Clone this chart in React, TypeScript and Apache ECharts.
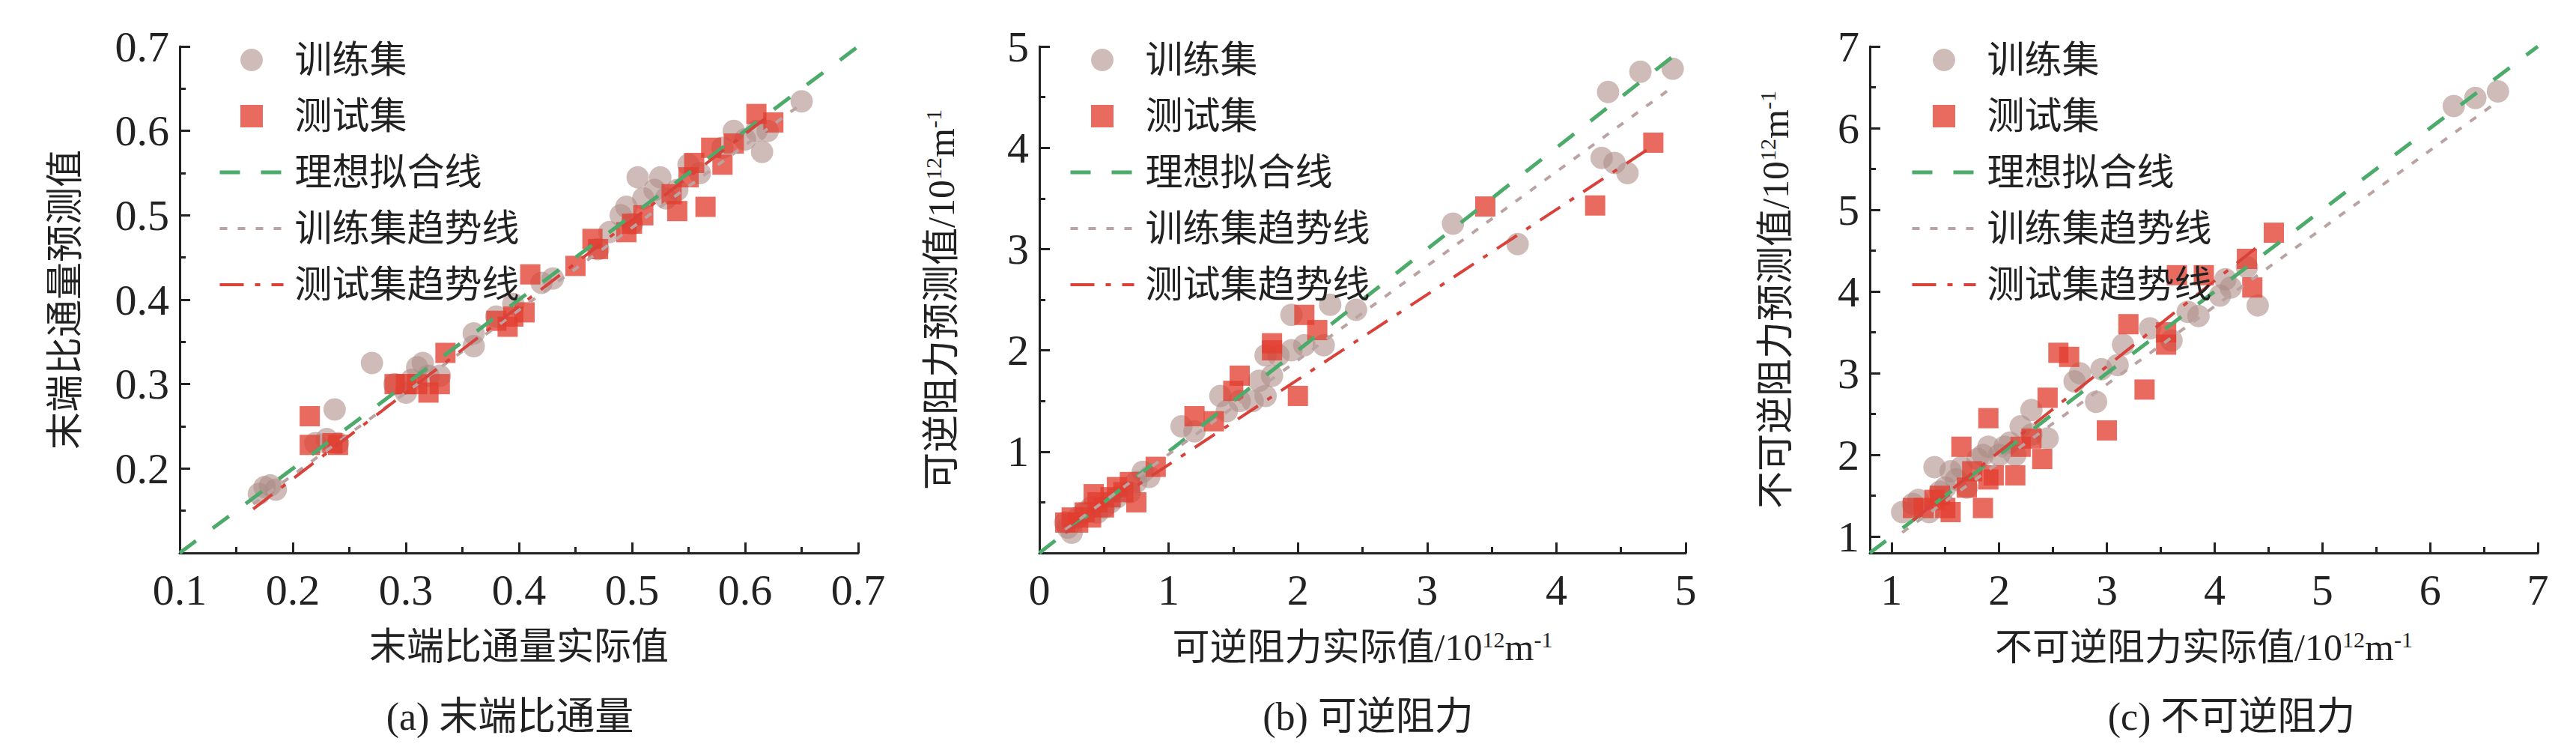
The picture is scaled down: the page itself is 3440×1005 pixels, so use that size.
import React, { useEffect, useRef } from "react";
import * as echarts from "echarts";

const trainA = [[0.17,0.17],[0.175,0.178],[0.18,0.18],[0.185,0.175],[0.22,0.23],[0.23,0.235],[0.237,0.27],[0.24,0.23],[0.27,0.325],[0.29,0.3],[0.3,0.29],[0.305,0.305],[0.31,0.32],[0.315,0.325],[0.32,0.31],[0.33,0.31],[0.36,0.36],[0.36,0.345],[0.38,0.38],[0.395,0.395],[0.42,0.42],[0.43,0.425],[0.47,0.46],[0.48,0.48],[0.49,0.5],[0.495,0.51],[0.5,0.49],[0.505,0.545],[0.51,0.52],[0.52,0.53],[0.525,0.545],[0.53,0.52],[0.54,0.53],[0.55,0.56],[0.56,0.55],[0.58,0.58],[0.59,0.6],[0.6,0.59],[0.61,0.6],[0.615,0.575],[0.62,0.6],[0.65,0.635]];
const testA = [[0.215,0.262],[0.215,0.228],[0.235,0.23],[0.24,0.228],[0.29,0.3],[0.3,0.3],[0.31,0.3],[0.32,0.29],[0.33,0.3],[0.335,0.337],[0.38,0.375],[0.39,0.368],[0.395,0.38],[0.405,0.385],[0.41,0.43],[0.45,0.44],[0.465,0.472],[0.47,0.46],[0.495,0.48],[0.5,0.49],[0.51,0.5],[0.535,0.525],[0.54,0.505],[0.55,0.545],[0.555,0.562],[0.565,0.51],[0.57,0.58],[0.58,0.56],[0.59,0.585],[0.61,0.62],[0.625,0.61]];
const idealA = [[0.1,0.1],[0.7,0.7]];
const trendTrainA = [[0.165,0.158],[0.65,0.632]];
const trendTestA = [[0.165,0.152],[0.625,0.622]];

const trainB = [[0.2,0.3],[0.22,0.25],[0.25,0.2],[0.3,0.35],[0.35,0.4],[0.4,0.45],[0.45,0.4],[0.5,0.45],[0.55,0.5],[0.6,0.55],[0.7,0.6],[0.75,0.7],[0.8,0.8],[0.85,0.75],[1.1,1.25],[1.2,1.2],[1.4,1.55],[1.45,1.4],[1.55,1.5],[1.65,1.5],[1.7,1.7],[1.75,1.95],[1.75,1.55],[1.8,1.75],[1.85,1.95],[1.95,2.35],[1.95,2.0],[2.05,2.05],[2.2,2.05],[2.25,2.45],[2.45,2.4],[3.2,3.25],[3.7,3.05],[4.35,3.9],[4.4,4.55],[4.45,3.85],[4.55,3.75],[4.65,4.75],[4.9,4.78]];
const testB = [[0.2,0.3],[0.25,0.35],[0.3,0.3],[0.35,0.4],[0.4,0.35],[0.42,0.58],[0.45,0.5],[0.5,0.45],[0.55,0.55],[0.6,0.65],[0.65,0.6],[0.7,0.7],[0.75,0.5],[0.9,0.85],[1.2,1.35],[1.35,1.3],[1.5,1.6],[1.55,1.75],[1.8,2.0],[1.8,2.07],[2.0,1.55],[2.05,2.35],[2.15,2.2],[3.45,3.42],[4.3,3.43],[4.75,4.05]];
const idealB = [[0,0],[5,5]];
const trendTrainB = [[0.2,0.23],[4.9,4.6]];
const trendTestB = [[0.2,0.2],[4.75,4.02]];

const trainC = [[1.1,1.3],[1.2,1.4],[1.25,1.45],[1.35,1.3],[1.4,1.85],[1.45,1.55],[1.5,1.6],[1.55,1.8],[1.6,1.7],[1.65,1.85],[1.7,1.6],[1.8,1.95],[1.85,2.0],[1.9,2.1],[2.0,2.0],[2.05,2.1],[2.1,2.15],[2.15,2.0],[2.2,2.35],[2.3,2.55],[2.3,2.25],[2.45,2.2],[2.7,2.9],[2.75,3.0],[2.9,2.65],[2.95,3.05],[3.1,3.1],[3.15,3.35],[3.4,3.55],[3.6,3.4],[3.75,3.75],[3.85,3.7],[4.05,3.95],[4.1,4.15],[4.15,4.05],[4.3,4.3],[4.4,3.83],[6.22,6.27],[6.42,6.37],[6.63,6.45]];
const testC = [[1.2,1.35],[1.3,1.35],[1.4,1.45],[1.45,1.5],[1.5,1.35],[1.55,1.3],[1.65,2.1],[1.7,1.6],[1.75,1.8],[1.85,1.35],[1.9,2.45],[1.9,1.7],[1.95,1.75],[2.15,1.75],[2.2,2.1],[2.3,2.2],[2.4,1.95],[2.45,2.7],[2.55,3.25],[2.65,3.2],[3.0,2.3],[3.2,3.6],[3.35,2.8],[3.55,3.5],[3.55,3.35],[3.65,4.2],[3.9,4.2],[4.3,4.4],[4.35,4.05],[4.55,4.72]];
const idealC = [[0.8,0.8],[7,7]];
const trendTrainC = [[1.1,1.05],[6.6,6.3]];
const trendTestC = [[1.2,1.2],[4.4,4.55]];

const ticksC = [1, 2, 3, 4, 5, 6, 7];
const minorC = [1.5, 2.5, 3.5, 4.5, 5.5, 6.5];

const titles = ["(a) 末端比通量", "(b) 可逆阻力", "(c) 不可逆阻力"];
const xNames = ["末端比通量实际值", "可逆阻力实际值/10{s|12}m{s|-1}", "不可逆阻力实际值/10{s|12}m{s|-1}"];
const yNames = ["末端比通量预测值", "可逆阻力预测值/10{s|12}m{s|-1}", "不可逆阻力预测值/10{s|12}m{s|-1}"];
const names = ["训练集", "测试集", "理想拟合线", "训练集趋势线", "测试集趋势线"];

const FONT = "'Liberation Serif', 'Noto Sans CJK SC', serif";
const C_TRAIN = "rgba(172,138,134,0.72)";
const C_TEST = "rgba(226,60,46,0.95)";
const LS_IDEAL = { color: "#4caa6a", width: 5, type: [27, 28] };
const LS_TRAIN = { color: "#bba3a3", width: 4, type: [10, 14] };
const LS_TEST = { color: "#d9423a", width: 4, type: [32, 15, 7, 15] };

export default function App() {
  const ref = useRef<HTMLDivElement>(null);
  useEffect(() => {
    const chart = echarts.init(ref.current!, null, { renderer: "svg" });
    const grids = [
      { left: 232, top: 54, width: 906, height: 676 },
      { left: 1380, top: 54, width: 863, height: 676 },
      { left: 2489, top: 54, width: 892, height: 676 },
    ];
    const ranges = [[0.1, 0.7, 0.1], [0, 5, 1], [0.8, 7, 1]];
    const yGaps = [128, 105, 100];
    const rich = { s: { fontSize: 30, verticalAlign: "top", padding: [0, 0, 22, 0], fontFamily: FONT } };
    const lineAx = { show: true, lineStyle: { color: "#222", width: 3 } };
    const xAxis: any[] = [];
    const yAxis: any[] = [];
    ranges.forEach((r, i) => {
      const isC = i === 2;
      const base = (dim: "x" | "y") => ({
        type: "value", gridIndex: i, min: r[0], max: r[1],
        ...(isC ? {} : { interval: r[2] }),
        splitLine: { show: false },
        axisLine: lineAx,
        axisTick: { show: true, inside: true, length: 14, lineStyle: { color: "#222", width: 3 }, ...(isC ? { customValues: ticksC } : {}) },
        minorTick: { show: !isC, splitNumber: 2, length: 8, lineStyle: { color: "#222", width: 3 } },
        axisLabel: {
          fontSize: 58, fontFamily: FONT, color: "#222", margin: dim === "x" ? 20 : 14,
          ...(isC ? { customValues: ticksC } : {}),
          formatter: (v: number) => (dim === "y" && Math.abs(v - r[0]) < 1e-9 ? "" : String(+v.toFixed(2))),
        },
      });
      xAxis.push({ ...base("x"), name: xNames[i], nameLocation: "middle", nameGap: 100,
        nameTextStyle: { fontSize: 50, fontFamily: FONT, color: "#222", rich } });
      yAxis.push({ ...base("y"), name: yNames[i], nameLocation: "middle", nameGap: yGaps[i],
        nameTextStyle: { fontSize: 50, fontFamily: FONT, color: "#222", rich } });
    });
    const minorAx = { type: "value", gridIndex: 2, min: 0.8, max: 7, splitLine: { show: false },
      axisLine: { show: false }, axisLabel: { show: false },
      axisTick: { show: true, inside: true, length: 8, customValues: minorC, lineStyle: { color: "#222", width: 3 } } };
    xAxis.push({ ...minorAx, position: "bottom" });
    yAxis.push({ ...minorAx, position: "left" });

    const series: any[] = [];
    const sets = [
      [trainA, testA, idealA, trendTrainA, trendTestA],
      [trainB, testB, idealB, trendTrainB, trendTestB],
      [trainC, testC, idealC, trendTrainC, trendTestC],
    ];
    sets.forEach((s, i) => {
      const ax = { xAxisIndex: i, yAxisIndex: i };
      series.push({ name: names[2], type: "line", ...ax, data: s[2], symbol: "none", z: 3,
        lineStyle: LS_IDEAL, itemStyle: { color: LS_IDEAL.color } });
      series.push({ name: names[3], type: "line", ...ax, data: s[3], symbol: "none", z: 3,
        lineStyle: LS_TRAIN, itemStyle: { color: LS_TRAIN.color } });
      series.push({ name: names[4], type: "line", ...ax, data: s[4], symbol: "none", z: 3,
        lineStyle: LS_TEST, itemStyle: { color: LS_TEST.color } });
      series.push({ name: names[0], type: "scatter", ...ax, data: s[0], symbol: "circle", symbolSize: 30, z: 2,
        itemStyle: { color: C_TRAIN } });
      series.push({ name: names[1], type: "scatter", ...ax, data: s[1], symbol: "rect", symbolSize: 27, z: 2,
        itemStyle: { color: C_TEST } });
    });
    const legendData = [
      { name: names[0], icon: "circle" },
      { name: names[1], icon: "path://M0,0h10v10h-10z" },
      { name: names[2], itemStyle: { opacity: 0 }, lineStyle: LS_IDEAL },
      { name: names[3], itemStyle: { opacity: 0 }, lineStyle: LS_TRAIN },
      { name: names[4], itemStyle: { opacity: 0 }, lineStyle: LS_TEST },
    ];
    const legendLefts = [278, 1414, 2538];
    const legend = legendLefts.map((l) => ({
      left: l, top: 42, orient: "vertical", itemWidth: 85, itemHeight: 30, itemGap: 25,
      selectedMode: false, data: legendData,
      textStyle: { fontSize: 50, fontFamily: FONT, color: "#222", padding: [0, 0, 0, 10] },
    }));
    const titleX = [673, 1819, 2972];
    chart.setOption({
      animation: false,
      backgroundColor: "#fff",
      grid: grids,
      xAxis, yAxis, series, legend,
      graphic: titles.map((t, i) => ({
        type: "text", x: titleX[i], y: 948,
        style: { text: t, fontSize: 52, fontFamily: FONT, fill: "#222", align: "center", verticalAlign: "middle" },
      })),
    });
    return () => chart.dispose();
  }, []);
  return <div ref={ref} style={{ width: 3424, height: 989 }} />;
}
